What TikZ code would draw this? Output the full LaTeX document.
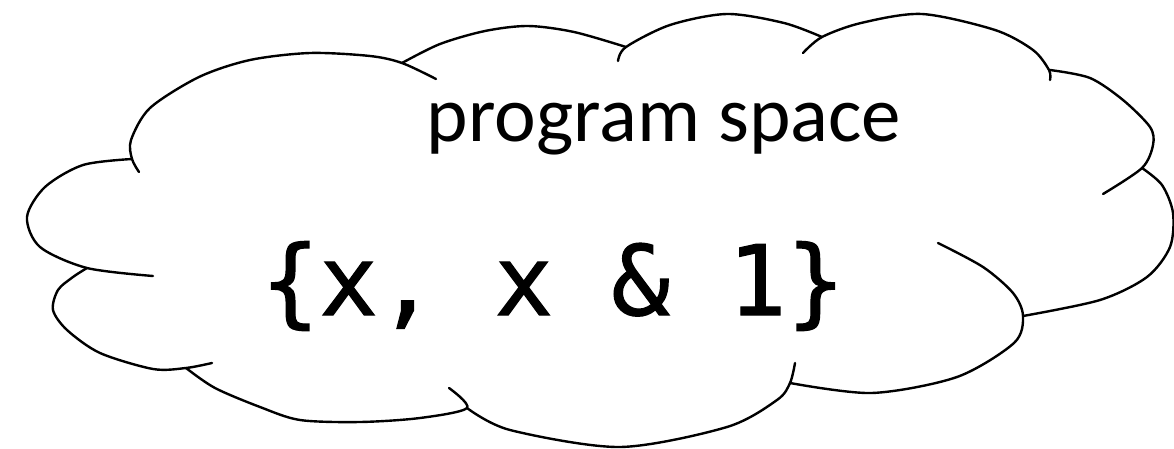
\documentclass[tikz,border=0pt]{standalone}
\usepackage{fontspec}
\setmainfont{Carlito}
\newfontfamily\codefont[FakeBold=1.2]{DejaVu Sans Mono}
\usetikzlibrary{positioning}

\begin{document}
\begin{tikzpicture}[
    x=1pt, y=-1pt,
    lobe/.style={line width=2.4pt, line cap=round, line join=round},
    title/.style={anchor=base, inner sep=0pt, font=\fontsize{79}{90}\selectfont},
    code/.style={anchor=base, inner sep=0pt, font=\codefont\fontsize{97}{110}\selectfont}
]
\useasboundingbox (0,0) rectangle (1174,449);

% Cloud lobes
\draw[lobe] plot[smooth] coordinates {(153,276) (87,268) (40,247) (27,217) (45,187) (83,165) (132,159)};
\draw[lobe] plot[smooth] coordinates {(139,172) (132,159) (131,140) (150,108) (199,77) (250,60) (310,53) (370,56) (402,63) (436,79)};
\draw[lobe] plot[smooth] coordinates {(402,63) (440,44) (485,31) (528,26) (574,32) (626,47)};
\draw[lobe] plot[smooth] coordinates {(618,61) (626,47) (670,25) (727,14) (784,23) (822,37)};
\draw[lobe] plot[smooth] coordinates {(803,53) (822,37) (861,23) (922,14) (995,30) (1033,50) (1049,70) (1050,80)};
\draw[lobe] plot[smooth] coordinates {(1050,70) (1090,78) (1123,100) (1150,127) (1153,145) (1142,168) (1103,194)};
\draw[lobe] plot[smooth] coordinates {(1142,168) (1162,185) (1173,213) (1170,247) (1147,277) (1100,300) (1023,316)};
\draw[lobe] plot[smooth] coordinates {(938,243) (983,267) (1013,293) (1023,316) (1014,343) (957,377) (872,393) (790,383)};
\draw[lobe] plot[smooth] coordinates {(795,363) (790,383) (777,400) (727,427) (620,447) (510,430) (467,408)};
\draw[lobe] plot[smooth] coordinates {(449,388) (467,408) (420,418) (360,422) (300,420) (260,407) (215,388) (186,368)};
\draw[lobe] plot[smooth] coordinates {(212,363) (186,368) (153,369) (100,353) (67,330) (53,310) (58,290) (73,277) (87,268)};

% Texts
\node[title] (space) at (664,142) {program space};
\node[code] (progs) at (553,315) {\{x, x \& 1\}};

\end{tikzpicture}
\end{document}
